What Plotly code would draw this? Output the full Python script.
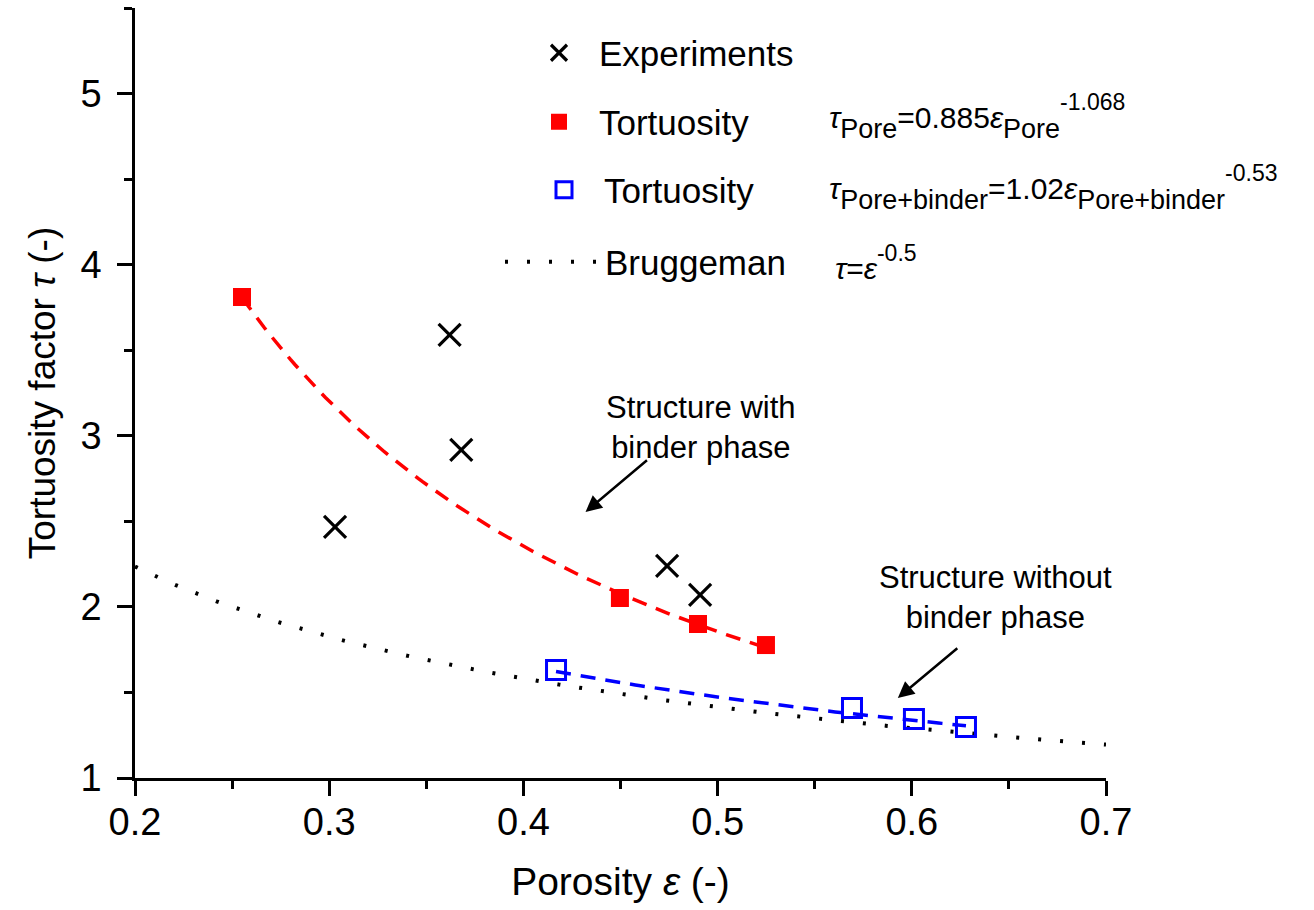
import numpy as np
import plotly.graph_objects as go

# ---------------- data ----------------
exp_porosity = [0.303, 0.362, 0.368, 0.474, 0.491]
exp_tau = [2.467, 3.589, 2.917, 2.239, 2.070]

pore_porosity = [0.2551, 0.4497, 0.4899, 0.5249]
pore_tau = [3.811, 2.052, 1.900, 1.777]

binder_porosity = [0.4168, 0.5692, 0.6011, 0.6279]
binder_tau = [1.631, 1.409, 1.345, 1.298]

# fit coefficients shown in the chart: tau = a * eps^b
pore_fit = (0.885, -1.068)
binder_fit = (1.02, -0.53)
brugg_fit = (1.0, -0.5)

x_ticks = [0.2, 0.3, 0.4, 0.5, 0.6, 0.7]
y_ticks = [1, 2, 3, 4, 5]

FONT = "Liberation Sans, Arial, sans-serif"


def fit_curve(coef, lo, hi):
    e = np.linspace(lo, hi, 120)
    return e, coef[0] * e ** coef[1]


fig = go.Figure()

# fit / model lines
ex, ey = fit_curve(brugg_fit, 0.2, 0.7)
fig.add_trace(go.Scatter(x=ex, y=ey, mode="lines", name="Bruggeman",
                         line=dict(color="black", width=4, dash="3px,19px"),
                         legend="legend4", showlegend=True))
ex, ey = fit_curve(pore_fit, min(pore_porosity), max(pore_porosity))
fig.add_trace(go.Scatter(x=ex, y=ey, mode="lines", showlegend=False,
                         line=dict(color="red", width=3.5, dash="15px,10px")))
ex, ey = fit_curve(binder_fit, min(binder_porosity), max(binder_porosity))
fig.add_trace(go.Scatter(x=ex, y=ey, mode="lines", showlegend=False,
                         line=dict(color="blue", width=3.5, dash="15px,10px")))

# measured / simulated points
fig.add_trace(go.Scatter(x=exp_porosity, y=exp_tau, mode="markers", name="Experiments",
                         marker=dict(symbol="x-thin", size=22, line=dict(color="black", width=3.2)),
                         legend="legend"))
fig.add_trace(go.Scatter(x=pore_porosity, y=pore_tau, mode="markers", name="Tortuosity",
                         marker=dict(symbol="square", size=18, color="red", line=dict(width=0)),
                         legend="legend2"))
fig.add_trace(go.Scatter(x=binder_porosity, y=binder_tau, mode="markers", name="Tortuosity",
                         marker=dict(symbol="square-open", size=19, color="blue",
                                     line=dict(color="blue", width=3)),
                         legend="legend3"))

leg_common = dict(bgcolor="rgba(0,0,0,0)", borderwidth=0, font=dict(family=FONT, size=35, color="black"),
                  xanchor="left", yanchor="middle")
axis_font = dict(family=FONT, size=38, color="black")

annotations = []
# equations
main = "<span style='font-size:30px'>{}</span>"
sub = "<sub><span style='font-size:27px'>{}</span></sub>"
sup = "<sup><span style='font-size:23px'>{}</span></sup>"
eq1 = (main.format("<i>τ</i>") + sub.format("Pore") + main.format("=0.885<i>ε</i>")
       + sub.format("Pore") + sup.format("-1.068"))
eq2 = (main.format("<i>τ</i>") + sub.format("Pore+binder") + main.format("=1.02<i>ε</i>")
       + sub.format("Pore+binder") + sup.format("-0.53"))
eq3 = main.format("<i>τ</i>=<i>ε</i>") + sup.format("-0.5")
for txt, xp, yp in [(eq1, 827, 116), (eq2, 827, 188), (eq3, 833, 262)]:
    annotations.append(dict(text=txt, xref="paper", yref="paper",
                            x=(xp - 135) / 971, y=(778 - yp) / 770,
                            xanchor="left", yanchor="middle", showarrow=False,
                            font=dict(family=FONT, size=44, color="black")))

# callouts
annotations.append(dict(text="Structure with<br>binder phase", x=0.4912, y=3.05, xref="x", yref="y",
                        showarrow=False, font=dict(family=FONT, size=31, color="black")))
annotations.append(dict(text="Structure without<br>binder phase", x=0.6433, y=2.052, xref="x", yref="y",
                        showarrow=False, font=dict(family=FONT, size=31, color="black")))
annotations.append(dict(text="", x=0.432, y=2.555, ax=0.4644, ay=2.864, xref="x", yref="y",
                        axref="x", ayref="y", showarrow=True, arrowhead=2, arrowsize=1.3,
                        arrowwidth=2.5, arrowcolor="black"))
annotations.append(dict(text="", x=0.5928, y=1.468, ax=0.6242, ay=1.766, xref="x", yref="y",
                        axref="x", ayref="y", showarrow=True, arrowhead=2, arrowsize=1.3,
                        arrowwidth=2.5, arrowcolor="black"))

fig.update_layout(
    width=1314, height=910,
    margin=dict(l=135, r=208, t=8, b=132),
    paper_bgcolor="white", plot_bgcolor="white",
    font=dict(family=FONT, color="black"),
    legend=dict(x=(519 - 135) / 971, y=(778 - 53) / 770, itemwidth=70, **leg_common),
    legend2=dict(x=(519 - 135) / 971, y=(778 - 122) / 770, itemwidth=70, **leg_common),
    legend3=dict(x=(524 - 135) / 971, y=(778 - 190) / 770, itemwidth=70, **leg_common),
    legend4=dict(x=(500 - 135) / 971, y=(778 - 262) / 770, itemwidth=95, **leg_common),
    annotations=annotations,
    xaxis=dict(range=[0.2, 0.7], tickvals=x_ticks, ticktext=[str(v) for v in x_ticks],
               showline=True, linecolor="black", linewidth=2.5, mirror=False,
               ticks="outside", ticklen=15, tickwidth=2.5, tickcolor="black",
               minor=dict(dtick=0.05, tick0=0.2, ticks="outside", ticklen=8, tickwidth=2.5, tickcolor="black"),
               showgrid=False, zeroline=False, tickfont=axis_font, ticklabelstandoff=-6,
               title=dict(text="Porosity <i>ε</i> (-)", font=dict(family=FONT, size=39, color="black"),
                          standoff=26)),
    yaxis=dict(range=[1, 5.5], tickvals=y_ticks, ticktext=[str(v) for v in y_ticks],
               showline=True, linecolor="black", linewidth=2.5, mirror=False,
               ticks="outside", ticklen=15, tickwidth=2.5, tickcolor="black",
               minor=dict(dtick=0.5, tick0=1, ticks="outside", ticklen=8, tickwidth=2.5, tickcolor="black"),
               showgrid=False, zeroline=False, tickfont=axis_font, ticklabelstandoff=8,
               title=dict(text="Tortuosity factor <i>τ</i> (-)", font=dict(family=FONT, size=37, color="black"),
                          standoff=14)),
)

fig.write_html("out.html")
